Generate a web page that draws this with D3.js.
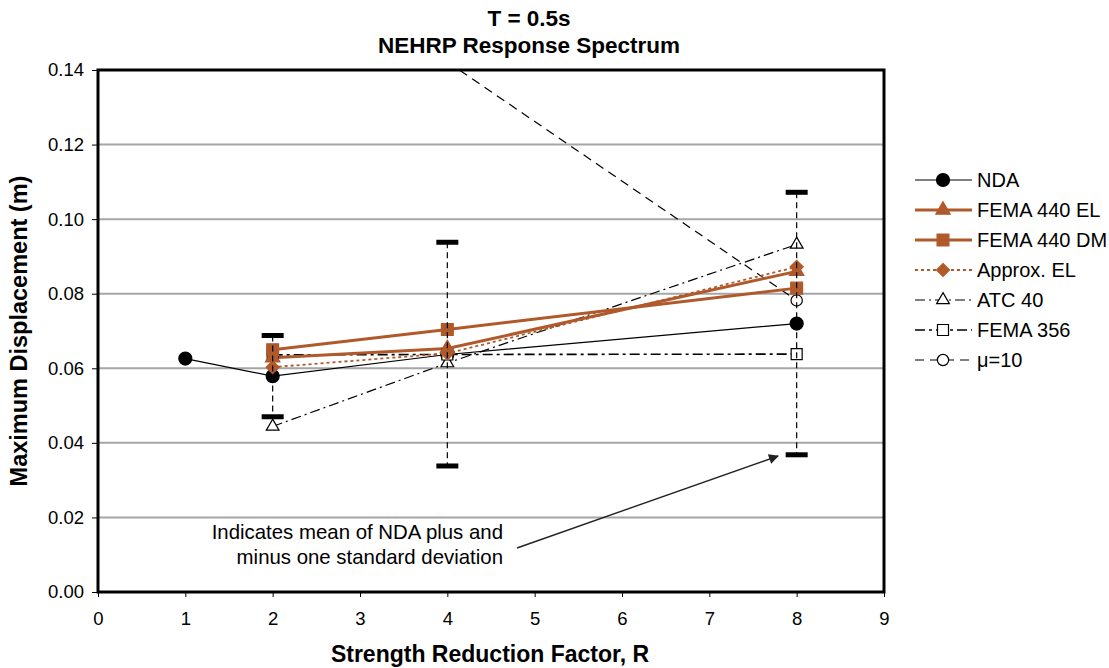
<!DOCTYPE html>
<html><head><meta charset="utf-8">
<script src="https://cdn.jsdelivr.net/npm/d3@7"></script>
<style>body{margin:0;background:#fff}svg{display:block;font-family:"Liberation Sans",Arial,sans-serif}</style>
</head><body><svg id="c" width="1109" height="668"></svg>
<script>
const xTicks = [0,1,2,3,4,5,6,7,8,9];
const yTicks = [0,0.02,0.04,0.06,0.08,0.10,0.12,0.14];
const ndaX = [1,2,4,8];
const ndaY = [0.0626,0.0579,0.0637,0.0720];
const el440X = [2,4,8];
const el440Y = [0.0628,0.0653,0.0860];
const dm440X = [2,4,8];
const dm440Y = [0.0650,0.0704,0.0815];
const apxX = [2,4,8];
const apxY = [0.0603,0.0640,0.0872];
const atcX = [2,4,8];
const atcY = [0.0444,0.0614,0.0932];
const f356X = [2,4,8];
const f356Y = [0.0636,0.0637,0.0638];
const muX = [4,8];
const muY = [0.1422,0.0782];
const errX = [2,4,8];
const errHi = [0.0688,0.0938,0.1072];
const errLo = [0.0470,0.0338,0.0368];
const legendNames = ["NDA","FEMA 440 EL","FEMA 440 DM","Approx. EL","ATC 40","FEMA 356","\u03bc=10"];

const orange = "#B05A2C";
const svg = d3.select("#c");
const L=98,R=884,T=70,B=592;
const x = d3.scaleLinear().domain([0,9]).range([L,R]);
const y = d3.scaleLinear().domain([0,0.14]).range([B,T]);

const defs = svg.append("defs");
defs.append("clipPath").attr("id","clip").append("rect")
  .attr("x",L).attr("y",T).attr("width",R-L).attr("height",B-T);
defs.append("marker").attr("id","ah").attr("viewBox","0 0 10 10")
  .attr("refX",9).attr("refY",5).attr("markerWidth",14).attr("markerHeight",10)
  .attr("markerUnits","userSpaceOnUse").attr("orient","auto")
  .append("path").attr("d","M0,0L10,5L0,10Z").attr("fill","#222");

// gridlines
svg.append("g").selectAll("line").data(yTicks.slice(1,-1)).join("line")
  .attr("x1",L).attr("x2",R).attr("y1",d=>y(d)).attr("y2",d=>y(d))
  .attr("stroke","#a6a6a6").attr("stroke-width",2);

// axes
const yAx = svg.append("g").attr("transform",`translate(${L},0)`)
  .call(d3.axisLeft(y).tickValues(yTicks).tickFormat(d3.format(".2f")).tickSize(6).tickPadding(8));
const xAx = svg.append("g").attr("transform",`translate(0,${B})`)
  .call(d3.axisBottom(x).tickValues(xTicks).tickFormat(d3.format("d")).tickSize(5).tickPadding(15));
[yAx,xAx].forEach(g=>{g.select(".domain").remove();g.selectAll("text").attr("font-size",18.5).attr("fill","#000").attr("font-family","Liberation Sans, Arial, sans-serif");g.selectAll("line").attr("stroke","#000");});

const plot = svg.append("g").attr("clip-path","url(#clip)");
const line = d3.line().x(d=>x(d[0])).y(d=>y(d[1]));

// error bars
const eb = svg.append("g");
errX.forEach((xv,i)=>{
  eb.append("line").attr("x1",x(xv)).attr("x2",x(xv)).attr("y1",y(errHi[i])).attr("y2",y(errLo[i]))
    .attr("stroke","#000").attr("stroke-width",1.2).attr("stroke-dasharray","6,4");
  [errHi[i],errLo[i]].forEach(v=>eb.append("line").attr("x1",x(xv)-11).attr("x2",x(xv)+11)
    .attr("y1",y(v)).attr("y2",y(v)).attr("stroke","#000").attr("stroke-width",5));
});

const diamond = {draw(ctx,size){const r=Math.sqrt(size/2);ctx.moveTo(0,-r);ctx.lineTo(r,0);ctx.lineTo(0,r);ctx.lineTo(-r,0);ctx.closePath();}};
const symMap = {circle:d3.symbolCircle,triangle:d3.symbolTriangle,square:d3.symbolSquare,diamond:diamond};
const series = [
  {xs:ndaX,ys:ndaY,color:"#000",w:1.2,dash:null,sym:"circle",fill:"#000",size:133},
  {xs:atcX,ys:atcY,color:"#000",w:1.2,dash:"10,4,2,4",sym:"triangle",fill:"#fff",size:70},
  {xs:f356X,ys:f356Y,color:"#000",w:1.6,dash:"10,4,3,4",sym:"square",fill:"#fff",size:121},
  {xs:muX,ys:muY,color:"#000",w:1.2,dash:"9,6",sym:"circle",fill:"#fff",size:100},
  {xs:apxX,ys:apxY,color:orange,w:1.8,dash:"3,3",sym:"diamond",fill:orange,size:85},
  {xs:el440X,ys:el440Y,color:orange,w:3,dash:null,sym:"triangle",fill:orange,size:90},
  {xs:dm440X,ys:dm440Y,color:orange,w:3,dash:null,sym:"square",fill:orange,size:140},
];
series.forEach(s=>{
  const pts = s.xs.map((v,i)=>[v,s.ys[i]]);
  plot.append("path").attr("d",line(pts)).attr("fill","none").attr("stroke",s.color)
    .attr("stroke-width",s.w).attr("stroke-dasharray",s.dash);
});
series.forEach(s=>{
  const pts = s.xs.map((v,i)=>[v,s.ys[i]]);
  plot.selectAll(null).data(pts).join("path")
    .attr("transform",d=>`translate(${x(d[0])},${y(d[1])})`)
    .attr("d",d3.symbol().type(symMap[s.sym]).size(s.size))
    .attr("fill",s.fill).attr("stroke",s.fill==="#fff"?"#000":s.color).attr("stroke-width",1.2);
});

// plot border
svg.append("rect").attr("x",L).attr("y",T).attr("width",R-L).attr("height",B-T)
  .attr("fill","none").attr("stroke","#000").attr("stroke-width",3);

// annotation
const ann = svg.append("text").attr("text-anchor","end").attr("font-size",20.4).attr("fill","#000");
ann.append("tspan").attr("x",503).attr("y",539).text("Indicates mean of NDA plus and");
ann.append("tspan").attr("x",503).attr("y",564).text("minus one standard deviation");
svg.append("line").attr("x1",517).attr("y1",548).attr("x2",778).attr("y2",456)
  .attr("stroke","#222").attr("stroke-width",1.4).attr("marker-end","url(#ah)");

// titles
svg.append("text").attr("x",529).attr("y",26).attr("text-anchor","middle").attr("font-size",22.5).attr("font-weight","bold").text("T = 0.5s");
svg.append("text").attr("x",529).attr("y",53).attr("text-anchor","middle").attr("font-size",22.5).attr("font-weight","bold").text("NEHRP Response Spectrum");
svg.append("text").attr("x",490).attr("y",662).attr("text-anchor","middle").attr("font-size",23).attr("font-weight","bold").text("Strength Reduction Factor, R");
svg.append("text").attr("transform","translate(27,331) rotate(-90)").attr("text-anchor","middle").attr("font-size",23.5).attr("font-weight","bold").text("Maximum Displacement (m)");

// legend
const lg = svg.append("g");
const legendStyle = [series[0],series[5],series[6],series[4],series[1],series[2],series[3]];
legendNames.forEach((n,i)=>{
  const s = legendStyle[i], yy = 180+i*30;
  lg.append("line").attr("x1",915).attr("x2",972).attr("y1",yy).attr("y2",yy)
    .attr("stroke",s.color).attr("stroke-width",s.w).attr("stroke-dasharray",s.dash);
  lg.append("path").attr("transform",`translate(943,${yy})`).attr("d",d3.symbol().type(symMap[s.sym]).size(s.size))
    .attr("fill",s.fill).attr("stroke",s.fill==="#fff"?"#000":s.color).attr("stroke-width",1.2);
  lg.append("text").attr("x",977).attr("y",yy+7).attr("font-size",20).text(n);
});
</script></body></html>
